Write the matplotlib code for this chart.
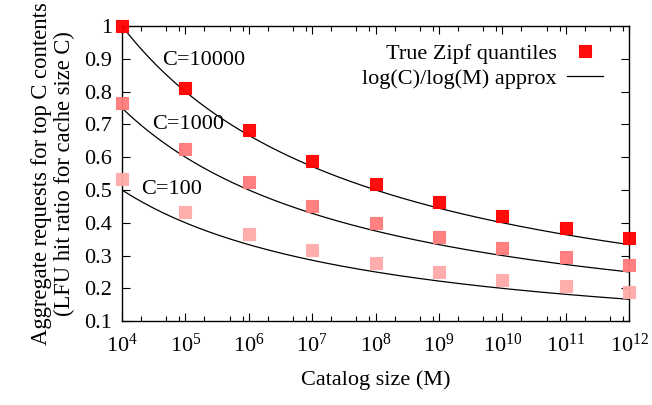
import numpy as np
import matplotlib
matplotlib.use('Agg')
import matplotlib.pyplot as plt
from matplotlib.ticker import FixedLocator, NullFormatter

plt.rcParams['font.family'] = ['Liberation Serif', 'DejaVu Serif']
plt.rcParams['mathtext.fontset'] = 'custom'
plt.rcParams['mathtext.rm'] = 'Liberation Serif'

# ===== data =====
catalog_exp = [4, 5, 6, 7, 8, 9, 10, 11, 12]
cache_sizes = [10000, 1000, 100]
zipf_c10000 = [1.0, 0.811, 0.683, 0.588, 0.519, 0.464, 0.421, 0.385, 0.353]
zipf_c1000 = [0.766, 0.624, 0.525, 0.451, 0.400, 0.358, 0.322, 0.295, 0.271]
zipf_c100 = [0.533, 0.434, 0.366, 0.317, 0.277, 0.251, 0.226, 0.207, 0.190]
marker_colors = ['#ff0000', '#ff7a7a', '#ffaaaa']
curve_labels = ['C=10000', 'C=1000', 'C=100']
label_pos = [(10**4.63, 0.896), (10**4.47, 0.698), (10**4.30, 0.50)]

M = np.array([10.0 ** e for e in catalog_exp])
FS = 16

fig = plt.figure(figsize=(6.52, 4.05), dpi=100)
ax = fig.add_axes([0.187, 0.207, 0.778, 0.729])
ax.set_xscale('log')

# log(C)/log(M) approximation curves
m_fine = np.logspace(4, 12, 300)
for i, C in enumerate(cache_sizes):
    ax.plot(m_fine, np.log(C) / np.log(m_fine), color='black', lw=0.9,
            label='log(C)/log(M) approx' if i == 0 else None, zorder=2)

for i, vals in enumerate([zipf_c10000, zipf_c1000, zipf_c100]):
    ax.plot(M, vals, ls='none', marker='s', ms=9, mfc=marker_colors[i],
            mec=marker_colors[i], mew=0.8, alpha=0.95, clip_on=False,
            label='True Zipf quantiles' if i == 0 else None, zorder=3)
    ax.text(label_pos[i][0], label_pos[i][1], curve_labels[i], fontsize=FS,
            va='center', ha='left')

ax.set_xlim(1e4, 1e12)
ax.set_ylim(0.1, 1.0)
ax.set_yticks(np.arange(0.1, 1.01, 0.1))
ax.set_yticklabels(['0.1', '0.2', '0.3', '0.4', '0.5', '0.6', '0.7', '0.8', '0.9', '1'])
ax.xaxis.set_major_locator(FixedLocator(M))
ax.set_xticklabels([r'$\mathregular{10^{%d}}$' % e for e in catalog_exp])
minor = [m * f for m in M[:-1] for f in (2, 5, 8)]
ax.xaxis.set_minor_locator(FixedLocator(minor))
ax.xaxis.set_minor_formatter(NullFormatter())

ax.tick_params(which='both', direction='in', top=True, right=True, labelsize=FS)
ax.tick_params(which='major', length=6, width=0.8)
ax.tick_params(which='minor', length=3.5, width=0.8)
ax.tick_params(axis='x', pad=9)
ax.tick_params(axis='y', pad=7)
for s in ax.spines.values():
    s.set_linewidth(1.0)

ax.set_xlabel('Catalog size (M)', fontsize=FS, labelpad=10)
ax.set_ylabel('Aggregate requests for top C contents\n(LFU hit ratio for cache size C)',
              fontsize=16.3, linespacing=1.1, labelpad=7)

h, l = ax.get_legend_handles_labels()
leg = ax.legend(h[::-1], l[::-1], loc='upper right', frameon=False, fontsize=FS,
                markerfirst=False, handlelength=1.6, handletextpad=0.45,
                borderaxespad=0.0, labelspacing=0.2, bbox_to_anchor=(0.965, 0.97))

fig.savefig('out.png', dpi=100)
